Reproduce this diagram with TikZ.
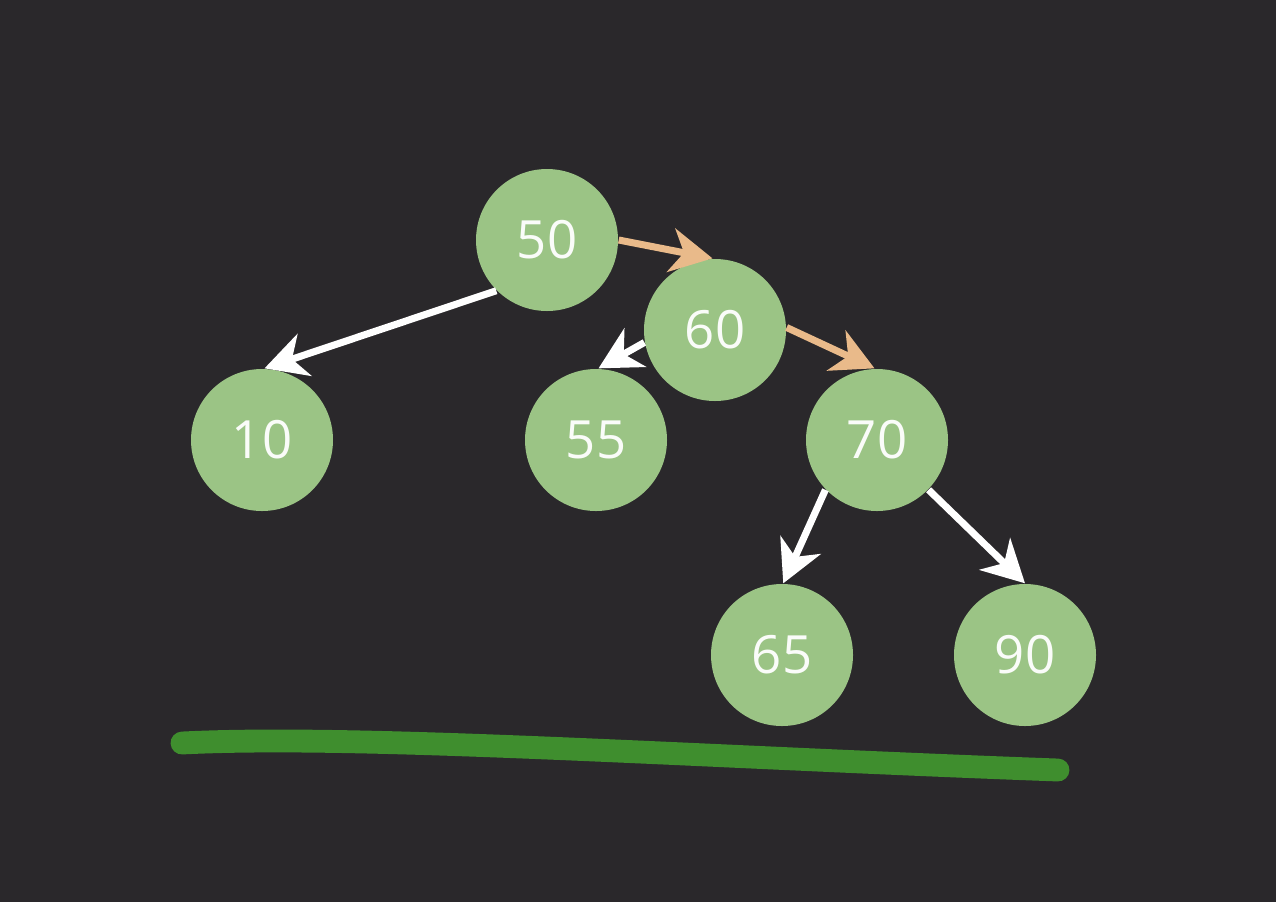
\documentclass[tikz,border=0pt]{standalone}
\usepackage{xcolor}
\usepackage{fontspec}
\setmainfont{Open Sans}
\usetikzlibrary{arrows.meta}

\definecolor{bgdark}{HTML}{2A282B}
\definecolor{leafgreen}{HTML}{9BC485}
\definecolor{pathorange}{HTML}{E9BA8A}
\definecolor{markgreen}{HTML}{3F8E2E}

\tikzset{
  bstnode/.style={circle, fill=leafgreen, minimum size=1.42cm, inner sep=0pt,
    text=white!95!leafgreen, font=\fontsize{15}{17}\selectfont},
  bstarrow/.style={-{Stealth[length=4.2mm, width=4.4mm, inset=1.3mm]}, line width=2pt, white},
  patharrow/.style={bstarrow, pathorange}
}

\begin{document}
\begin{tikzpicture}
          \fill[bgdark] (0,0) rectangle (12.76,9.02);
          \useasboundingbox (0,0) rectangle (12.76,9.02);

          \node[bstnode] (n50) at (5.47,6.62) {50};
          \node[bstnode] (n60) at (7.15,5.72) {60};
          \node[bstnode] (n10) at (2.62,4.62) {10};
          \node[bstnode] (n55) at (5.96,4.62) {55};
          \node[bstnode] (n70) at (8.77,4.62) {70};
          \node[bstnode] (n65) at (7.82,2.47) {65};
          \node[bstnode] (n90) at (10.25,2.47) {90};

          \draw[bstarrow] (n50.225) -- (n10.88);
          \draw[bstarrow] (n60.190) -- (n55.88);
          \draw[bstarrow] (n70.224) -- (n65.89);
          \draw[bstarrow] (n70.316) -- (n90.90);

          \draw[patharrow] (n50.0) -- (n60.92);
          \draw[patharrow] (n60.2) -- (n70.92);

          \coordinate (lineA) at (1.82,1.59);
          \coordinate (lineB) at (10.58,1.32);
          \draw[markgreen, line width=6.5pt, line cap=round]
            (lineA) .. controls (3.6,1.68) and (7,1.45) .. (lineB);

          \end{tikzpicture}
\end{document}
